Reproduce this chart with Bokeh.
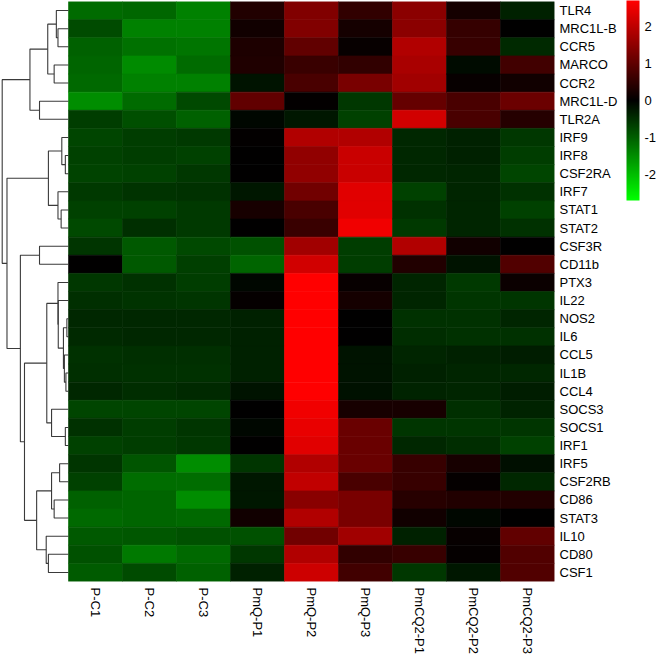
import math
from bokeh.plotting import figure
from bokeh.models import Range1d, LinearColorMapper, ColorBar, FixedTicker, ColumnDataSource
from bokeh.transform import transform
from bokeh.embed import file_html
from bokeh.resources import INLINE

# ---------------- data ----------------
samples = ["P-C1", "P-C2", "P-C3", "PmQ-P1", "PmQ-P2", "PmQ-P3",
           "PmCQ2-P1", "PmCQ2-P2", "PmCQ2-P3"]

genes = ["TLR4", "MRC1L-B", "CCR5", "MARCO", "CCR2", "MRC1L-D", "TLR2A",
         "IRF9", "IRF8", "CSF2RA", "IRF7", "STAT1", "STAT2", "CSF3R", "CD11b",
         "PTX3", "IL22", "NOS2", "IL6", "CCL5", "IL1B", "CCL4", "SOCS3", "SOCS1",
         "IRF1", "IRF5", "CSF2RB", "CD86", "STAT3", "IL10", "CD80", "CSF1"]

# row z-scores per sample (gene order as above)
p_c1 = [-1.12, -0.80, -1.02, -1.06, -1.10, -1.48, -0.64, -0.72, -0.68, -0.70,
        -0.61, -0.68, -0.76, -0.55, 0.00, -0.59, -0.49, -0.42, -0.44, -0.51,
        -0.49, -0.42, -0.72, -0.51, -0.68, -0.55, -0.68, -1.02, -1.10, -0.93,
        -0.85, -0.97]
p_c2 = [-1.08, -1.36, -1.19, -1.46, -1.36, -1.12, -0.83, -0.64, -0.64, -0.68,
        -0.53, -0.68, -0.49, -0.93, -0.93, -0.51, -0.53, -0.42, -0.42, -0.49,
        -0.51, -0.47, -0.72, -0.64, -0.64, -0.89, -1.14, -1.06, -1.06, -0.91,
        -1.27, -0.80]
p_c3 = [-1.36, -1.36, -1.24, -1.12, -1.36, -0.76, -1.02, -0.61, -0.68, -0.59,
        -0.51, -0.61, -0.61, -0.76, -0.66, -0.64, -0.55, -0.42, -0.42, -0.49,
        -0.51, -0.44, -0.72, -0.55, -0.59, -1.48, -1.14, -1.48, -1.10, -0.85,
        -1.10, -1.02]
pmq_p1 = [0.34, 0.17, 0.30, 0.32, -0.19, 1.02, -0.08, 0.04, 0.00, 0.00,
          -0.25, 0.25, 0.00, -0.85, -1.06, -0.08, 0.05, -0.34, -0.34, -0.34,
          -0.34, -0.21, 0.00, -0.08, 0.00, -0.55, -0.25, -0.25, 0.17, -0.85,
          -0.59, -0.34]
pmq_p2 = [1.36, 1.36, 1.02, 0.61, 0.76, 0.04, -0.25, 1.86, 1.52, 1.52,
          1.19, 0.76, 0.61, 1.69, 2.20, 2.70, 2.70, 2.70, 2.70, 2.70,
          2.70, 2.70, 2.54, 2.46, 2.37, 1.86, 2.03, 1.44, 1.86, 1.19,
          1.86, 2.16]
pmq_p3 = [0.51, 0.22, 0.08, 0.51, 1.27, -0.59, -0.68, 1.86, 2.12, 2.12,
          2.37, 2.37, 2.54, -0.64, -0.64, 0.08, 0.22, 0.00, 0.00, -0.19,
          -0.21, -0.17, 0.25, 1.10, 1.10, 1.10, 0.78, 1.27, 1.27, 1.69,
          0.51, 0.68]
pmcq2_p1 = [1.47, 1.47, 1.86, 1.78, 1.69, 1.06, 2.20, -0.42, -0.42, -0.42,
            -0.68, -0.51, -0.61, 1.86, 0.34, -0.38, -0.38, -0.51, -0.47, -0.38,
            -0.34, -0.36, 0.25, -0.55, -0.42, 0.59, 0.59, 0.42, 0.17, -0.34,
            0.59, -0.59]
pmcq2_p2 = [0.22, 0.56, 0.59, -0.11, 0.08, 0.76, 0.78, -0.34, -0.34, -0.38,
            -0.38, -0.38, -0.38, 0.17, -0.21, -0.61, -0.55, -0.51, -0.51, -0.34,
            -0.38, -0.38, -0.49, -0.55, -0.47, 0.25, 0.05, 0.34, -0.08, 0.08,
            0.05, -0.25]
pmcq2_p3 = [-0.34, 0.02, -0.44, 0.68, 0.17, 1.12, 0.39, -0.59, -0.64, -0.72,
            -0.51, -0.68, -0.51, 0.00, 0.85, 0.11, -0.55, -0.38, -0.51, -0.30,
            -0.42, -0.30, -0.36, -0.55, -0.68, -0.15, -0.42, 0.34, 0.00, 1.02,
            0.85, 0.85]

columns = [p_c1, p_c2, p_c3, pmq_p1, pmq_p2, pmq_p3, pmcq2_p1, pmcq2_p2, pmcq2_p3]

# row dendrogram (hierarchical clustering): merge A + B at distance H
# (ints refer to earlier merges, strings to genes)
link_a = ["MRC1L-B", "TLR4", "MARCO", 1, "MRC1L-D", 3,
          "IRF8", "IRF9", "STAT1", "IRF7", 7, "CSF3R",
          "NOS2", "IL1B", "CCL5", 12, "IL22", "PTX3",
          "SOCS1", "SOCS3", 17, "IRF5", "CD86", 21, "CD80", "IL10",
          23, 20, 11, 10, 5]
link_b = ["CCR5", 0, "CCR2", 2, "TLR2A", 4,
          "CSF2RA", 6, "STAT2", 8, 9, "CD11b",
          "IL6", "CCL4", 13, 14, 15, 16,
          "IRF1", 18, 19, "CSF2RB", "STAT3", 22, "CSF1", 24,
          25, 26, 27, 28, 29]
link_h = [11.0, 12.7, 15.0, 21.7, 30.3, 40.3,
          3.3, 7.0, 7.7, 11.0, 21.0, 30.3,
          1.7, 2.7, 4.3, 5.3, 10.7, 11.0,
          3.3, 17.7, 22.7, 9.3, 15.0, 17.7, 21.0, 23.3,
          33.3, 46.0, 50.3, 64.3, 69.3]

z_low, z_high = -2.7, 2.7
cbar_ticks = [-2, -1, 0, 1, 2]

# ---------------- build ----------------
xs, ys, vals = [], [], []
for j, col in enumerate(columns):
    for i, v in enumerate(col):
        xs.append(j)
        ys.append(i)
        vals.append(v)
source = ColumnDataSource(dict(x=xs, y=ys, v=vals))

palette = []
for k in range(256):
    t = k / 255 * 2 - 1
    if t < 0:
        palette.append("#%02x%02x%02x" % (0, round(-t * 255), 0))
    else:
        palette.append("#%02x%02x%02x" % (round(t * 255), 0, 0))
mapper = LinearColorMapper(palette=palette, low=z_low, high=z_high)

FRAME_W = 554
FRAME_H = 580
CELL_W = 54.0
DEND_PX = FRAME_W - 9 * CELL_W            # pixels left of the heatmap
X0 = -0.5 - DEND_PX / CELL_W

p = figure(frame_width=FRAME_W, frame_height=FRAME_H,
           x_range=Range1d(X0, 8.5), y_range=Range1d(len(genes) - 0.5, -0.5),
           output_backend="svg", toolbar_location=None,
           y_axis_location="right", x_axis_location="below",
           min_border=0, min_border_top=1)
p.outline_line_color = None
p.grid.visible = False
p.background_fill_color = "white"
p.border_fill_color = "white"

p.rect(x="x", y="y", width=1, height=1, source=source,
       fill_color=transform("v", mapper), line_color=transform("v", mapper),
       line_width=0.6)

# dendrogram
scale = ((DEND_PX - 1.7) / CELL_W) / max(link_h)
leaf_y = {g: i for i, g in enumerate(genes)}
node_pos = []
dxs, dys = [], []
def pos(ref):
    if isinstance(ref, str):
        return (-0.5, leaf_y[ref])
    return node_pos[ref]
for a, b, h in zip(link_a, link_b, link_h):
    xa, ya = pos(a)
    xb, yb = pos(b)
    xn = -0.5 - h * scale
    dxs.append([xa, xn, xn, xb])
    dys.append([ya, ya, yb, yb])
    node_pos.append((xn, (ya + yb) / 2))
p.multi_line(xs=dxs, ys=dys, line_color="#3a3a3a", line_width=1.1)

FONT = "Liberation Sans"
for ax in (p.xaxis[0], p.yaxis[0]):
    ax.axis_line_color = None
    ax.major_tick_line_color = None
    ax.minor_tick_line_color = None
    ax.major_tick_out = 0
    ax.major_tick_in = 0
    ax.major_label_text_font = FONT
    ax.major_label_text_font_size = "13px"
    ax.major_label_text_color = "black"

p.xaxis.ticker = FixedTicker(ticks=list(range(len(samples))))
p.xaxis.major_label_overrides = {i: s for i, s in enumerate(samples)}
p.xaxis.major_label_orientation = -math.pi / 2
p.xaxis.major_label_standoff = 6

p.yaxis.ticker = FixedTicker(ticks=list(range(len(genes))))
p.yaxis.major_label_overrides = {i: g for i, g in enumerate(genes)}
p.yaxis.major_label_standoff = 5

CB_H = 200
CB_PAD = 6
cb = ColorBar(color_mapper=mapper, ticker=FixedTicker(ticks=cbar_ticks),
              major_label_overrides={t: str(t) for t in cbar_ticks},
              width=13, height=CB_H, padding=CB_PAD, label_standoff=5,
              location=(0, FRAME_H + 1 - CB_PAD - CB_H),
              major_tick_line_color=None, minor_tick_line_color=None,
              bar_line_color=None, border_line_color=None,
              background_fill_color=None,
              major_label_text_font=FONT, major_label_text_font_size="13px",
              major_label_text_color="black")
p.add_layout(cb, "right")

open("out.html", "w").write(file_html(p, INLINE))
